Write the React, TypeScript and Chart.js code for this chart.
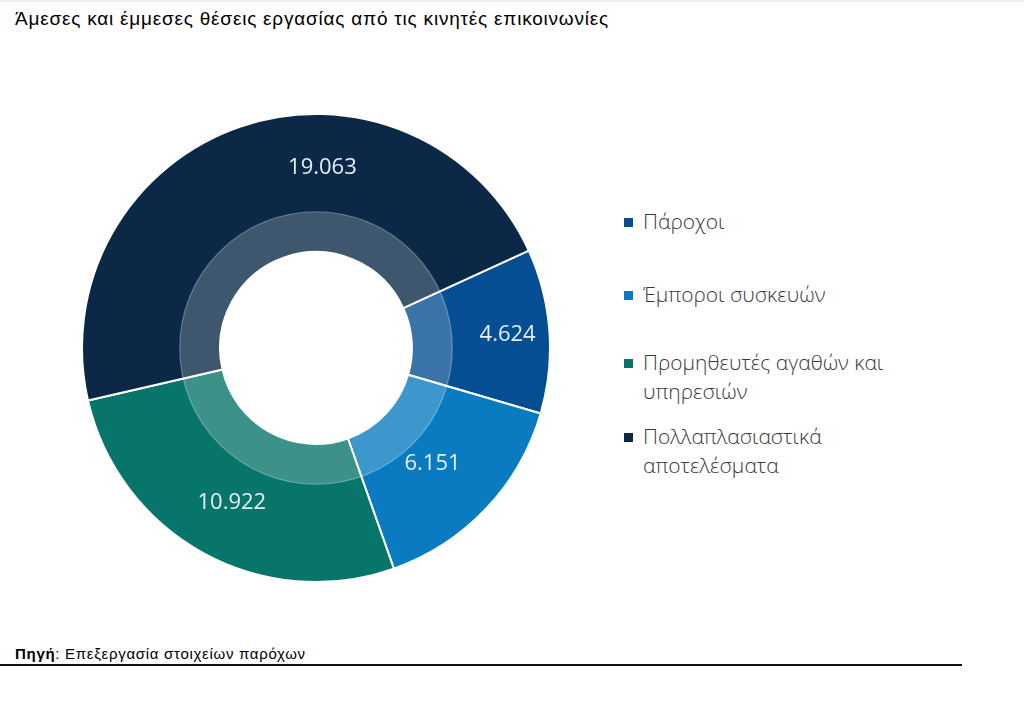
import React, { useEffect, useRef } from "react";
import { Chart, registerables } from "chart.js";

Chart.register(...registerables);

const categories = [
  "Πάροχοι",
  "Έμποροι συσκευών",
  "Προμηθευτές αγαθών και υπηρεσιών",
  "Πολλαπλασιαστικά αποτελέσματα",
];
const jobValues = [4624, 6151, 10922, 19063];
const valueLabels = ["4.624", "6.151", "10.922", "19.063"];
const sliceColors = ["#054e94", "#0a7bc0", "#08756a", "#0b2947"];

const titleText = "Άμεσες και έμμεσες θέσεις εργασίας από τις κινητές επικοινωνίες";
const sourceLabel = "Πηγή";
const sourceText = ": Επεξεργασία στοιχείων παρόχων";

// label nudges (px) relative to slice centre in the outer band
const labelNudge = [
  [7, 0],
  [-18, -11],
  [5, -7],
  [66, -5],
];

const overlayPlugin = {
  id: "ringOverlay",
  afterDatasetsDraw(chart: any) {
    const meta = chart.getDatasetMeta(0);
    if (!meta.data.length) return;
    const ctx = chart.ctx as CanvasRenderingContext2D;
    const a0: any = meta.data[0];
    const cx = a0.x;
    const cy = a0.y;
    const rIn = a0.innerRadius;
    const rOut = a0.outerRadius;
    const rMid = rIn + (rOut - rIn) * 0.292;
    ctx.save();
    ctx.beginPath();
    ctx.arc(cx, cy, rMid, 0, Math.PI * 2);
    ctx.arc(cx, cy, rIn, 0, Math.PI * 2, true);
    ctx.closePath();
    ctx.fillStyle = "rgba(255,255,255,0.21)";
    ctx.fill();
    ctx.beginPath();
    ctx.arc(cx, cy, rMid, 0, Math.PI * 2);
    ctx.strokeStyle = "rgba(255,255,255,0.3)";
    ctx.lineWidth = 1.2;
    ctx.stroke();

    const rLabel = (rMid + rOut) / 2;
    ctx.fillStyle = "#e6eef5";
    ctx.font = "22px 'Open Sans'";
    ctx.textAlign = "center";
    ctx.textBaseline = "middle";
    meta.data.forEach((arc: any, i: number) => {
      const ang = (arc.startAngle + arc.endAngle) / 2;
      const x = cx + Math.cos(ang) * rLabel + labelNudge[i][0];
      const y = cy + Math.sin(ang) * rLabel + labelNudge[i][1];
      ctx.fillText(valueLabels[i], x, y);
    });
    ctx.restore();
  },
};

function DonutChart() {
  const ref = useRef<HTMLCanvasElement | null>(null);
  useEffect(() => {
    if (!ref.current) return;
    const chart = new Chart(ref.current, {
      type: "doughnut",
      data: {
        labels: categories,
        datasets: [
          {
            data: jobValues,
            backgroundColor: sliceColors,
            borderColor: "#ffffff",
            borderWidth: 2,
          },
        ],
      },
      options: {
        responsive: false,
        maintainAspectRatio: false,
        devicePixelRatio: 1,
        animation: false,
        rotation: 65.4,
        cutout: "41%",
        layout: { padding: 0 },
        plugins: {
          legend: { display: false },
          tooltip: { enabled: false },
          title: { display: false },
        },
      },
      plugins: [overlayPlugin],
    });
    return () => chart.destroy();
  }, []);
  return (
    <canvas
      ref={ref}
      width={470}
      height={470}
      style={{ position: "absolute", left: 81, top: 113, width: 470, height: 470 }}
    />
  );
}

const legendTops = [207, 280, 348, 422];

export default function App() {
  return (
    <div
      style={{
        position: "absolute",
        left: 0,
        top: 0,
        width: 1024,
        height: 717,
        background: "#ffffff",
        overflow: "hidden",
      }}
    >
      <div style={{ position: "absolute", left: 0, top: 0, width: 1024, height: 2, background: "#eeeeee" }} />
      <div
        style={{
          position: "absolute",
          left: 15,
          top: 8,
          fontFamily: "'Liberation Sans Narrow', 'Liberation Sans', Arial, sans-serif",
          fontSize: 19,
          letterSpacing: "0.78px",
          color: "#000",
          whiteSpace: "nowrap",
        }}
      >
        {titleText}
      </div>
      <DonutChart />
      {categories.map((c, i) => (
        <div
          key={c}
          style={{
            position: "absolute",
            left: 624,
            top: legendTops[i],
            display: "flex",
            alignItems: "flex-start",
          }}
        >
          <div
            style={{
              width: 9,
              height: 9,
              background: sliceColors[i],
              marginTop: 11,
              marginRight: 10,
              flex: "none",
            }}
          />
          <div
            style={{
              width: 262,
              fontFamily: "'Open Sans', sans-serif",
              fontWeight: 300,
              fontSize: 21,
              lineHeight: "29px",
              color: "#3a3a3a",
            }}
          >
            {c}
          </div>
        </div>
      ))}
      <div
        style={{
          position: "absolute",
          left: 15,
          top: 645,
          fontFamily: "'Liberation Sans Narrow', 'Liberation Sans', Arial, sans-serif",
          fontSize: 15,
          letterSpacing: "0.7px",
          color: "#000",
          whiteSpace: "nowrap",
        }}
      >
        <b>{sourceLabel}</b>
        {sourceText}
      </div>
      <div style={{ position: "absolute", left: 0, top: 664, width: 962, height: 2, background: "#111" }} />
    </div>
  );
}
